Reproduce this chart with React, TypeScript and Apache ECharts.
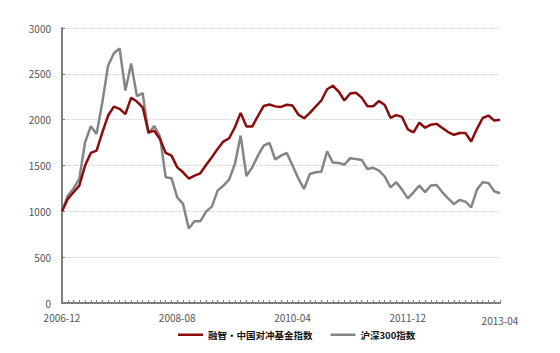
import React, { useEffect, useRef } from "react";
import * as echarts from "echarts";

const startYear = 2006;
const startMonth = 12;
const monthCount = 77;
const categories: string[] = [];
for (let i = 0; i < monthCount; i++) {
  const m0 = startMonth - 1 + i;
  const y = startYear + Math.floor(m0 / 12);
  const m = (m0 % 12) + 1;
  categories.push(`${y}-${m < 10 ? "0" + m : m}`);
}

const shownLabels = ["2006-12", "2008-08", "2010-04", "2011-12", "2013-04"];
const lowLabel = "2013-04";

const hedgeName = "融智·中国对冲基金指数";
const csiName = "沪深300指数";

const hedgeValues = [
  1000, 1135, 1208, 1281, 1499, 1637, 1663, 1862, 2045, 2143,
  2118, 2060, 2240, 2198, 2135, 1862, 1878, 1790, 1637, 1608,
  1480, 1426, 1358, 1390, 1415, 1506, 1590, 1681, 1761, 1797,
  1917, 2074, 1925, 1925, 2040, 2150, 2166, 2145, 2139, 2163,
  2154, 2056, 2015, 2074, 2143, 2209, 2332, 2370, 2307, 2209,
  2285, 2293, 2240, 2146, 2146, 2204, 2160, 2020, 2050, 2030,
  1895, 1862, 1968, 1912, 1945, 1954, 1910, 1865, 1835, 1855,
  1855, 1762, 1900, 2018, 2045, 1990, 1999,
];

const csiValues = [
  1000, 1171, 1250, 1354, 1753, 1928, 1845, 2190, 2591, 2725,
  2776, 2318, 2612, 2258, 2290, 1850, 1932, 1815, 1371, 1362,
  1153, 1081, 813, 891, 891, 997, 1051, 1226, 1281, 1346,
  1517, 1826, 1385, 1480, 1608, 1717, 1747, 1565, 1608, 1637,
  1499, 1360, 1245, 1408, 1426, 1433, 1655, 1532, 1528, 1508,
  1580, 1571, 1561, 1462, 1475, 1445, 1380, 1262, 1317, 1237,
  1142, 1208, 1281, 1210, 1281, 1288, 1208, 1142, 1080, 1124,
  1106, 1044, 1237, 1317, 1310, 1219, 1197,
];

const yMin = 0;
const yMax = 3000;
const yStep = 500;

export default function App() {
  const ref = useRef<HTMLDivElement>(null);
  useEffect(() => {
    if (!ref.current) return;
    const chart = echarts.init(ref.current, undefined, { renderer: "svg" });
    const font = "'Noto Sans CJK SC', sans-serif";
    chart.setOption({
      animation: false,
      backgroundColor: "#ffffff",
      grid: { left: 62, top: 28, width: 438, height: 275, containLabel: false },
      legend: {
        left: 178,
        top: 330,
        padding: 0,
        icon: "rect",
        itemWidth: 25,
        itemHeight: 2.5,
        itemGap: 18,
        textStyle: { fontFamily: font, fontSize: 9.5, fontWeight: "bold", color: "#111" },
        data: [hedgeName, csiName],
      },
      xAxis: {
        type: "category",
        data: categories,
        boundaryGap: false,
        axisLine: { lineStyle: { color: "#7f7f7f", width: 2 } },
        axisTick: { inside: true, length: 3, interval: 0, lineStyle: { color: "#7f7f7f", width: 1 } },
        axisLabel: {
          interval: (_i: number, v: string) => shownLabels.includes(v),
          formatter: (v: string) => (v === lowLabel ? `{low|${v}}` : v),
          rich: { low: { padding: [6, 0, 0, 0], fontFamily: font, fontSize: 10, color: "#555", lineHeight: 11 } },
          fontFamily: font,
          fontSize: 10,
          lineHeight: 11,
          color: "#555",
          margin: 9,
          showMaxLabel: true,
        },
        splitLine: { show: false },
      },
      yAxis: {
        type: "value",
        min: yMin,
        max: yMax,
        interval: yStep,
        axisLine: { show: true, lineStyle: { color: "#7f7f7f", width: 2 } },
        axisTick: { show: true, inside: true, length: 3, lineStyle: { color: "#7f7f7f" } },
        axisLabel: {
          fontFamily: font,
          fontSize: 10,
          lineHeight: 10,
          color: "#555",
          margin: 11,
          formatter: (v: number) => String(v),
        },
        splitLine: { lineStyle: { color: "#cfcfcf", type: [1, 1], width: 1 } },
      },
      series: [
        {
          name: hedgeName,
          type: "line",
          data: hedgeValues,
          symbol: "none",
          z: 3,
          lineStyle: { color: "#8b0c0c", width: 2.5 },
          itemStyle: { color: "#8b0c0c" },
        },
        {
          name: csiName,
          type: "line",
          data: csiValues,
          symbol: "none",
          z: 2,
          lineStyle: { color: "#858585", width: 2.5 },
          itemStyle: { color: "#858585" },
        },
      ],
    });
    return () => chart.dispose();
  }, []);
  return <div ref={ref} style={{ width: 560, height: 353, position: "absolute", left: 0, top: 0 }} />;
}
